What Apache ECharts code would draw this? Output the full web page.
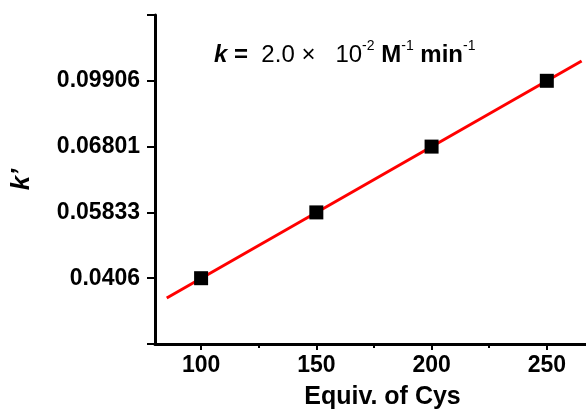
<!DOCTYPE html>
<html>
<head>
<meta charset="utf-8">
<script src="https://cdn.jsdelivr.net/npm/echarts@6/dist/echarts.min.js"></script>
<style>
  html, body { margin: 0; padding: 0; background: #fff; }
  #chart { width: 586px; height: 418px; }
</style>
</head>
<body>
<div id="chart"></div>
<script>
// Cys equivalents and the pseudo-first-order rate constant k' measured at each
const equiv = [100, 150, 200, 250];
const kTickLabels = ['0.0406', '0.05833', '0.06801', '0.09906'];
// each k' point sits on its own labelled tick (tick positions 1..4)
const kLevel = [1, 2, 3, 4];
// linear fit, drawn between its two end points
const fitX = [85.1, 265.1];
const fitLevel = [0.70, 4.30];
const minorTicks = [125, 175, 225];

const FONT = '"Liberation Sans", Arial, Helvetica, sans-serif';

const points = equiv.map((x, i) => [x, kLevel[i]]);
const fitLine = fitX.map((x, i) => [x, fitLevel[i]]);

const chart = echarts.init(document.getElementById('chart'), null, { renderer: 'canvas' });

chart.setOption({
  backgroundColor: '#ffffff',
  animation: false,
  grid: { left: 155, right: 0, top: 15, bottom: 74, containLabel: false },
  xAxis: [{
    type: 'value',
    min: 80,
    max: 267,
    name: 'Equiv. of Cys',
    nameLocation: 'middle',
    nameGap: 41,
    nameTextStyle: { fontFamily: FONT, fontWeight: 'bold', fontSize: 25, color: '#000', padding: [0, 0, 0, 24] },
    axisLine: { show: true, onZero: false, lineStyle: { color: '#000', width: 3 } },
    axisTick: { show: true, length: 6, inside: false, lineStyle: { color: '#000', width: 2 }, customValues: equiv },
    axisLabel: { show: true, margin: 10, fontFamily: FONT, fontWeight: 'bold', fontSize: 23, color: '#000', customValues: equiv },
    splitLine: { show: false }
  }, {
    // minor ticks half-way between the labelled ones
    type: 'value',
    min: 80,
    max: 267,
    position: 'bottom',
    axisLine: { show: false },
    axisTick: { show: true, length: 4, lineStyle: { color: '#000', width: 2 }, customValues: minorTicks },
    axisLabel: { show: false },
    splitLine: { show: false }
  }],
  yAxis: {
    type: 'value',
    min: 0,
    max: 5,
    interval: 1,
    name: 'k\u2019',
    nameLocation: 'middle',
    nameRotate: 90,
    nameGap: 120,
    nameTextStyle: { fontFamily: FONT, fontWeight: 'bold', fontStyle: 'italic', fontSize: 26, color: '#000' },
    axisLine: { show: true, onZero: false, lineStyle: { color: '#000', width: 3 } },
    axisTick: { show: true, length: 8, lineStyle: { color: '#000', width: 2 } },
    axisLabel: {
      show: true, margin: 15, fontFamily: FONT, fontWeight: 'bold', fontSize: 23, color: '#000',
      formatter: v => (v >= 1 && v <= kTickLabels.length ? kTickLabels[v - 1] : '')
    },
    splitLine: { show: false }
  },
  series: [{
    type: 'line',
    data: fitLine,
    symbol: 'none',
    lineStyle: { color: '#ff0000', width: 3 },
    z: 2
  }, {
    type: 'scatter',
    data: points,
    symbol: 'rect',
    symbolSize: 14,
    itemStyle: { color: '#000', opacity: 1 },
    z: 3
  }],
  graphic: [{
    type: 'text',
    left: 214,
    top: 39,
    style: {
      text: '{kb|k}{b| =  }{r|2.0 \u00d7   10}{sup|-2}{b| M}{sup|-1}{b| min}{sup|-1}',
      fill: '#000',
      rich: {
        kb: { fontFamily: FONT, fontWeight: 'bold', fontStyle: 'italic', fontSize: 24, lineHeight: 32 },
        b: { fontFamily: FONT, fontWeight: 'bold', fontSize: 24, lineHeight: 32 },
        r: { fontFamily: FONT, fontSize: 24, lineHeight: 32 },
        sup: { fontFamily: FONT, fontSize: 14, lineHeight: 14, verticalAlign: 'top' }
      }
    }
  }]
});
</script>
</body>
</html>
